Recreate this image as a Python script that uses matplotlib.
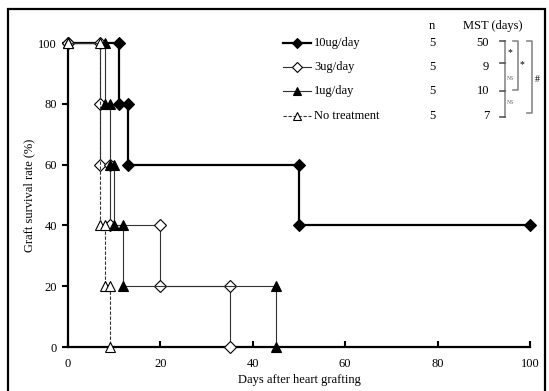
import matplotlib.pyplot as plt
from matplotlib.lines import Line2D
from matplotlib.patches import Rectangle

plt.rcParams['font.family'] = ['Liberation Serif', 'DejaVu Serif']

# corner points of the Kaplan-Meier step curves (day, survival %)
days_10ug = [0, 11, 11, 13, 13, 50, 50, 100]
surv_10ug = [100, 100, 80, 80, 60, 60, 40, 40]

days_3ug = [0, 7, 7, 7, 9, 9, 20, 20, 35, 35]
surv_3ug = [100, 100, 80, 60, 60, 40, 40, 20, 20, 0]

days_1ug = [0, 8, 8, 9, 9, 10, 10, 12, 12, 45, 45]
surv_1ug = [100, 100, 80, 80, 60, 60, 40, 40, 20, 20, 0]

days_none = [0, 7, 7, 8, 8, 9, 9]
surv_none = [100, 100, 40, 40, 20, 20, 0]

group_labels = ['10ug/day', '3ug/day', '1ug/day', 'No treatment']
group_n = [5, 5, 5, 5]
group_mst = [50, 9, 10, 7]

W, H = 549, 391


def fx(px):
    return px / W


def fy(py):
    return 1 - py / H


fig = plt.figure(figsize=(W / 100, H / 100), dpi=100)
ax = fig.add_axes([fx(68), fy(347), fx(530) - fx(68), fy(43) - fy(347)])

styles = [
    dict(color='black', lw=1.6, ls='-', marker='D', mfc='black', ms=6.5),
    dict(color='#333333', lw=0.8, ls='-', marker='D', mfc='white', ms=6),
    dict(color='#333333', lw=0.8, ls='-', marker='^', mfc='black', ms=7),
    dict(color='#333333', lw=0.8, ls='--', marker='^', mfc='white', ms=7),
]
series = [(days_10ug, surv_10ug), (days_3ug, surv_3ug),
          (days_1ug, surv_1ug), (days_none, surv_none)]

for k, ((x, y), st) in enumerate(zip(series, styles)):
    ax.plot(x, y, mec='black', mew=0.8, clip_on=False, zorder=3 + k,
            dashes=(3, 1.5) if st['ls'] == '--' else (None, None), **st)

ax.set_xlim(0, 100)
ax.set_ylim(0, 100)
ax.set_xticks([0, 20, 40, 60, 80, 100])
ax.set_yticks([0, 20, 40, 60, 80, 100])
ax.tick_params(axis='x', direction='in', length=4, width=1.5, labelsize=9, pad=8)
ax.tick_params(axis='y', direction='out', length=4, width=1.5, labelsize=9, pad=4)
for s in ['top', 'right']:
    ax.spines[s].set_visible(False)
for s in ['left', 'bottom']:
    ax.spines[s].set_linewidth(1.6)
ax.set_xlabel('Days after heart grafting', fontsize=9, labelpad=3)
ax.set_ylabel('Graft survival rate (%)', fontsize=9, labelpad=2)

# legend table
rows_y = [43, 67, 91, 116]
for i, lab in enumerate(group_labels):
    st = styles[i]
    yy = fy(rows_y[i])
    ln = Line2D([fx(283), fx(311)], [yy, yy], transform=fig.transFigure,
                color=st['color'], lw=st['lw'],
                dashes=(3, 1.5) if st['ls'] == '--' else (None, None))
    mk = Line2D([fx(297)], [yy], transform=fig.transFigure, marker=st['marker'],
                mfc=st['mfc'], mec='black', mew=0.8, ms=st['ms'] - 1, ls='none')
    fig.add_artist(ln)
    fig.add_artist(mk)
    fig.text(fx(314), yy, lab, fontsize=9, va='center', ha='left')
    fig.text(fx(432), yy, str(group_n[i]), fontsize=9, va='center', ha='center')
    fig.text(fx(489), yy, str(group_mst[i]), fontsize=9, va='center', ha='right')
fig.text(fx(432), fy(26), 'n', fontsize=9, va='center', ha='center')
fig.text(fx(493), fy(26), 'MST (days)', fontsize=9, va='center', ha='center')

# significance brackets
gray = '#8a8a8a'


def bracket(xp, y0, y1, lw=1.2):
    fig.add_artist(Line2D([fx(xp - 5), fx(xp), fx(xp), fx(xp - 5)],
                          [fy(y0), fy(y0), fy(y1), fy(y1)],
                          transform=fig.transFigure, color=gray, lw=lw))


fig.add_artist(Line2D([fx(505), fx(505)], [fy(41), fy(117)],
                      transform=fig.transFigure, color=gray, lw=1.2))
for yp in [41, 63, 91, 117]:
    fig.add_artist(Line2D([fx(500), fx(505)], [fy(yp), fy(yp)],
                          transform=fig.transFigure, color='#555555', lw=1.2))
fig.text(fx(510), fy(53), '*', fontsize=7, ha='center', va='center')
fig.text(fx(510), fy(79), 'NS', fontsize=4, ha='center', va='center', color='#555555')
fig.text(fx(510), fy(103), 'NS', fontsize=4, ha='center', va='center', color='#555555')
bracket(518, 41, 90)
fig.text(fx(522), fy(65), '*', fontsize=7, ha='center', va='center')
bracket(532, 41, 113)
fig.text(fx(537), fy(80), '#', fontsize=7, ha='center', va='center')

# outer frame
fig.add_artist(Rectangle((fx(8), -0.1), fx(545) - fx(8), fy(9) + 0.1,
                         transform=fig.transFigure, fill=False, ec='black', lw=1.6))

fig.savefig('out.png', dpi=100)
